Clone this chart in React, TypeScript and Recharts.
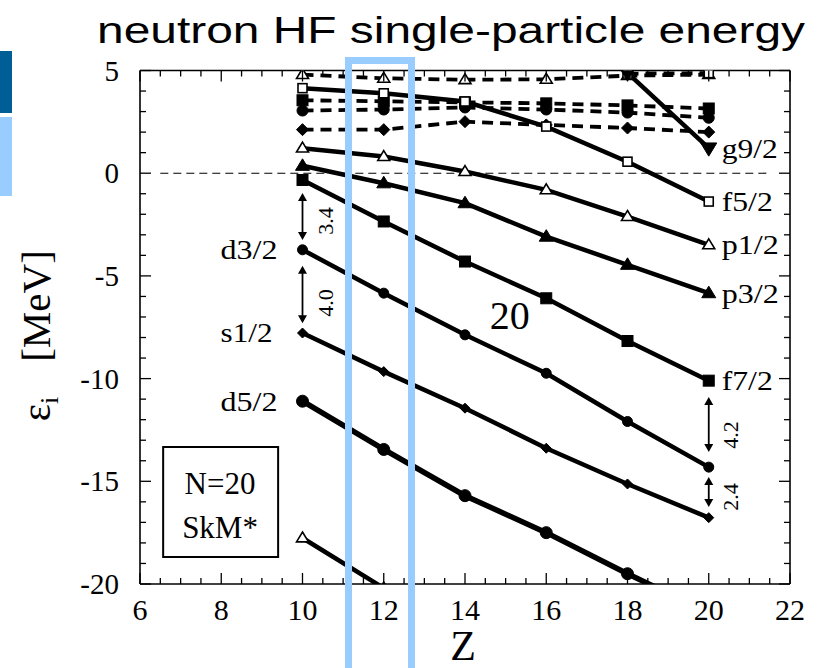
import React from 'react';
import { LineChart, Line, XAxis, YAxis, ReferenceLine, ReferenceDot, ReferenceArea } from 'recharts';

// ---------- data (Z = proton number, energies in MeV) ----------
const zValues = [10, 12, 14, 16, 18, 20];

// bound levels (solid lines)
const d52 = [-11.1, -13.45, -15.7, -17.5, -19.5, -21.4];
const s12 = [-7.78, -9.66, -11.44, -13.39, -15.13, -16.77];
const d32 = [-3.73, -5.84, -7.87, -9.74, -12.09, -14.31];
const f72 = [-0.33, -2.35, -4.3, -6.09, -8.17, -10.1];
const p32 = [0.36, -0.49, -1.46, -3.09, -4.46, -5.84];
const p12 = [1.22, 0.81, 0.08, -0.81, -2.11, -3.49];
const f52 = [4.14, 3.89, 3.49, 2.27, 0.56, -1.38];
const g92 = [null, null, null, null, 4.88, 1.22];
const p32deep = [-17.76, -20.2, null, null, null, null];

// continuum levels (dashed lines)
const contTri = [4.8, 4.62, 4.55, 4.57, 4.75, 4.8];
const contOpenSq = [null, null, null, null, 4.85, 4.87];
const contSq = [3.55, 3.5, 3.45, 3.4, 3.3, 3.15];
const contCirc = [3.05, 3.1, 3.2, 3.1, 2.95, 2.7];
const contDia = [2.12, 2.12, 2.51, 2.35, 2.2, 2.0];

// ticks
const xTicks = [6, 6.5, 7, 7.5, 8, 8.5, 9, 9.5, 10, 10.5, 11, 11.5, 12, 12.5, 13, 13.5, 14, 14.5, 15, 15.5, 16, 16.5, 17, 17.5, 18, 18.5, 19, 19.5, 20, 20.5, 21, 21.5, 22];
const xLabeledTicks = [6, 8, 10, 12, 14, 16, 18, 20, 22];
const yTicks = [-20, -19, -18, -17, -16, -15, -14, -13, -12, -11, -10, -9, -8, -7, -6, -5, -4, -3, -2, -1, 0, 1, 2, 3, 4, 5];
const yLabeledTicks = [-20, -15, -10, -5, 0, 5];

const data = zValues.map((z, i) => ({
  z,
  d52: d52[i], s12: s12[i], d32: d32[i], f72: f72[i], p32: p32[i], p12: p12[i],
  f52: f52[i], g92: g92[i], p32deep: p32deep[i],
  contTri: contTri[i], contOpenSq: contOpenSq[i], contSq: contSq[i], contCirc: contCirc[i], contDia: contDia[i],
}));

const SERIF = "'Liberation Serif', 'Times New Roman', serif";
const SANS = "'Liberation Sans', Arial, sans-serif";
const serifStyle = { fontFamily: SERIF };

// ---------- markers ----------
type Shape = 'circle' | 'square' | 'diamond' | 'tri' | 'triDown';
const marker = (shape: Shape, s: number, open = false) => (p: any) => {
  const { cx, cy, index, value } = p;
  const key = `m-${index}`;
  if (cx == null || cy == null || value == null || Number.isNaN(cy)) return <g key={key} />;
  const fill = open ? '#fff' : '#000';
  const common = { fill, stroke: '#000', strokeWidth: open ? 1.6 : 1 };
  switch (shape) {
    case 'circle':
      return <circle key={key} cx={cx} cy={cy} r={s} {...common} />;
    case 'square':
      return <rect key={key} x={cx - s} y={cy - s} width={2 * s} height={2 * s} {...common} />;
    case 'diamond':
      return <polygon key={key} points={`${cx},${cy - s} ${cx + s},${cy} ${cx},${cy + s} ${cx - s},${cy}`} {...common} />;
    case 'tri':
      return <polygon key={key} points={`${cx},${cy - s} ${cx + s},${cy + s * 0.65} ${cx - s},${cy + s * 0.65}`} {...common} />;
    case 'triDown':
      return <polygon key={key} points={`${cx},${cy + s} ${cx + s},${cy - s * 0.65} ${cx - s},${cy - s * 0.65}`} {...common} />;
  }
  return <g key={key} />;
};

// ---------- tick marks (lines only; labels drawn as reference text) ----------
const BottomTick = (p: any) => {
  const { x, y, payload } = p;
  const major = xLabeledTicks.includes(payload.value);
  return <line x1={x} y1={y} x2={x} y2={y - (major ? 11 : 6)} stroke="#000" strokeWidth={1.3} />;
};
const TopTick = (p: any) => {
  const { x, y, payload } = p;
  const major = xLabeledTicks.includes(payload.value);
  return <line x1={x} y1={y} x2={x} y2={y + (major ? 11 : 6)} stroke="#000" strokeWidth={1.3} />;
};
const LeftTick = (p: any) => {
  const { x, y, payload } = p;
  const major = yLabeledTicks.includes(payload.value);
  return <line x1={x} y1={y} x2={x + (major ? 11 : 6)} y2={y} stroke="#000" strokeWidth={1.3} />;
};
const RightTick = (p: any) => {
  const { x, y, payload } = p;
  const major = yLabeledTicks.includes(payload.value);
  return <line x1={x} y1={y} x2={x - (major ? 11 : 6)} y2={y} stroke="#000" strokeWidth={1.3} />;
};

// ---------- annotation shapes ----------
const textAt = (txt: string, dx: number, anchor: string, size: number, len?: number, dyPx = 0) => (p: any) => (
  <text
    x={p.cx + dx}
    y={p.cy + dyPx}
    dy="0.35em"
    textAnchor={anchor}
    style={serifStyle}
    fontFamily={SERIF}
    fontSize={size}
    fill="#000"
    textLength={len}
    lengthAdjust={len ? 'spacingAndGlyphs' : undefined}
  >
    {txt}
  </text>
);
const vText = (txt: string, size: number) => (p: any) => (
  <text
    x={p.cx}
    y={p.cy}
    dy="0.35em"
    textAnchor="middle"
    style={serifStyle}
    fontSize={size}
    fill="#000"
    transform={`rotate(-90, ${p.cx}, ${p.cy})`}
  >
    {txt}
  </text>
);
const ArrowShape = (p: any) => {
  const { x1, y1, x2, y2 } = p;
  const top = Math.min(y1, y2);
  const bot = Math.max(y1, y2);
  const h = 8;
  const w = 4.5;
  return (
    <g>
      <line x1={x1} y1={top + 3} x2={x2} y2={bot - 3} stroke="#000" strokeWidth={1.8} />
      <polygon points={`${x1},${top} ${x1 - w},${top + h} ${x1 + w},${top + h}`} fill="#000" />
      <polygon points={`${x1},${bot} ${x1 - w},${bot - h} ${x1 + w},${bot - h}`} fill="#000" />
    </g>
  );
};

const solid = { stroke: '#000', strokeWidth: 4.5, type: 'linear' as const, isAnimationActive: false, connectNulls: false };
const dashed = { ...solid, strokeWidth: 3.8, strokeDasharray: '11 7' };

export default function App() {
  return (
    <div style={{ position: 'absolute', left: 0, top: 0, width: 817, height: 668, background: '#fff', overflow: 'hidden' }}>
      <LineChart width={817} height={668} data={data} margin={{ top: 69.5, right: 26, bottom: 83, left: 139 }}>
        <XAxis
          dataKey="z"
          type="number"
          domain={[6, 22]}
          ticks={xTicks}
          interval={0}
          height={1}
          tickSize={0}
          tickMargin={0}
          tick={<BottomTick />}
          tickLine={false}
          axisLine={{ stroke: '#000', strokeWidth: 1.6 }}
          allowDataOverflow
        />
        <XAxis
          xAxisId="top"
          orientation="top"
          dataKey="z"
          type="number"
          domain={[6, 22]}
          ticks={xTicks}
          interval={0}
          height={1}
          tickSize={0}
          tickMargin={0}
          tick={<TopTick />}
          tickLine={false}
          axisLine={{ stroke: '#000', strokeWidth: 1.6 }}
          allowDataOverflow
        />
        <YAxis
          type="number"
          domain={[-20, 5]}
          ticks={yTicks}
          interval={0}
          width={1}
          tickSize={0}
          tickMargin={0}
          tick={<LeftTick />}
          tickLine={false}
          axisLine={{ stroke: '#000', strokeWidth: 1.6 }}
          allowDataOverflow
        />
        <YAxis
          yAxisId="right"
          orientation="right"
          type="number"
          domain={[-20, 5]}
          ticks={yTicks}
          interval={0}
          width={1}
          tickSize={0}
          tickMargin={0}
          tick={<RightTick />}
          tickLine={false}
          axisLine={{ stroke: '#000', strokeWidth: 1.6 }}
          allowDataOverflow
        />

        <ReferenceLine
          segment={[{ x: 6.5, y: 0 }, { x: 21.5, y: 0 }]}
          stroke="#000"
          strokeWidth={1.1}
          strokeDasharray="8 5"
        />

        {/* continuum (dashed) */}
        <Line dataKey="contTri" {...dashed} dot={marker('tri', 6, true)} />
        <Line dataKey="contOpenSq" {...dashed} dot={marker('square', 4.5, true)} />
        <Line dataKey="contSq" {...dashed} dot={marker('square', 5.5)} />
        <Line dataKey="contCirc" {...dashed} dot={marker('circle', 5.5)} />
        <Line dataKey="contDia" {...dashed} dot={marker('diamond', 6)} />

        {/* bound levels (solid) */}
        <Line dataKey="f52" {...solid} dot={marker('square', 4.5, true)} />
        <Line dataKey="g92" {...solid} dot={marker('triDown', 8)} />
        <Line dataKey="p12" {...solid} dot={marker('tri', 6, true)} />
        <Line dataKey="p32" {...solid} dot={marker('tri', 7)} />
        <Line dataKey="f72" {...solid} dot={marker('square', 5.5)} />
        <Line dataKey="d32" {...solid} dot={marker('circle', 5)} />
        <Line dataKey="s12" {...solid} dot={marker('diamond', 5)} />
        <Line dataKey="d52" {...solid} strokeWidth={5.5} dot={marker('circle', 6)} />
        <Line dataKey="p32deep" {...solid} dot={marker('tri', 6, true)} />

        {/* axis tick labels */}
        {xLabeledTicks.map((v) => (
          <ReferenceDot key={`xl-${v}`} x={v} y={-20} r={0} ifOverflow="visible" shape={textAt(String(v), 0, 'middle', 30, undefined, 25)} />
        ))}
        {yLabeledTicks.map((v) => (
          <ReferenceDot key={`yl-${v}`} x={6} y={v} r={0} ifOverflow="visible" shape={textAt(String(v), -21, 'end', 29)} />
        ))}

        {/* gap arrows */}
        <ReferenceLine segment={[{ x: 10, y: -0.97 }, { x: 10, y: -3.25 }]} shape={ArrowShape} />
        <ReferenceLine segment={[{ x: 10, y: -4.5 }, { x: 10, y: -7.3 }]} shape={ArrowShape} />
        <ReferenceLine segment={[{ x: 20, y: -10.9 }, { x: 20, y: -13.57 }]} shape={ArrowShape} />
        <ReferenceLine segment={[{ x: 20, y: -14.79 }, { x: 20, y: -16.25 }]} shape={ArrowShape} />
        <ReferenceDot x={10.55} y={-2.33} r={0} shape={vText('3.4', 22)} />
        <ReferenceDot x={10.55} y={-6.32} r={0} shape={vText('4.0', 22)} />
        <ReferenceDot x={20.52} y={-12.74} r={0} shape={vText('4.2', 22)} />
        <ReferenceDot x={20.52} y={-15.76} r={0} shape={vText('2.4', 22)} />

        {/* level labels */}
        <ReferenceDot x={zValues[0]} y={d32[0]} r={0} shape={textAt('d3/2', -25, 'end', 27, 57)} />
        <ReferenceDot x={zValues[0]} y={s12[0]} r={0} shape={textAt('s1/2', -30, 'end', 27, 52)} />
        <ReferenceDot x={zValues[0]} y={d52[0]} r={0} shape={textAt('d5/2', -25, 'end', 27, 57)} />
        <ReferenceDot x={zValues[5]} y={g92[5] as number} r={0} shape={textAt('g9/2', 13, 'start', 27, 56)} />
        <ReferenceDot x={zValues[5]} y={f52[5]} r={0} shape={textAt('f5/2', 13, 'start', 27, 51)} />
        <ReferenceDot x={zValues[5]} y={p12[5]} r={0} shape={textAt('p1/2', 13, 'start', 27, 57)} />
        <ReferenceDot x={zValues[5]} y={p32[5]} r={0} shape={textAt('p3/2', 13, 'start', 27, 57)} />
        <ReferenceDot x={zValues[5]} y={f72[5]} r={0} shape={textAt('f7/2', 13, 'start', 27, 51)} />
        <ReferenceDot x={15.1} y={-6.9} r={0} shape={textAt('20', 0, 'middle', 40)} />

        {/* info box */}
        <ReferenceArea x1={6.57} x2={9.4} y1={-18.68} y2={-13.33} fill="none" stroke="#000" strokeWidth={2} />
        <ReferenceDot x={7.97} y={-15.08} r={0} shape={textAt('N=20', 0, 'middle', 31)} />
        <ReferenceDot x={7.97} y={-17.22} r={0} shape={textAt('SkM*', 0, 'middle', 31)} />
      </LineChart>

      <svg width={817} height={668} style={{ position: 'absolute', left: 0, top: 0, pointerEvents: 'none' }}>
        <rect x={0} y={51} width={12} height={62} fill="#005e96" />
        <rect x={0} y={117} width={12} height={79} fill="#99ccff" />
        <rect x={348.5} y={60.5} width={63} height={640} fill="none" stroke="#99ccff" strokeWidth={7} />
        <text x={97} y={43} style={{ fontFamily: SANS }} fontSize={37} fill="#000" textLength={708} lengthAdjust="spacingAndGlyphs">
          neutron HF single-particle energy
        </text>
        <text x={463} y={660} textAnchor="middle" style={serifStyle} fontSize={42} fill="#000">Z</text>
        <g transform="translate(50,306) rotate(-90)">
          <text x={0} y={0} textAnchor="middle" style={serifStyle} fontSize={41} fill="#000">[MeV]</text>
        </g>
        <g transform="translate(50,409) rotate(-90)">
          <text x={0} y={0} textAnchor="middle" style={serifStyle} fontSize={41} fill="#000">
            ε<tspan fontSize={26} dy={8}>i</tspan>
          </text>
        </g>
      </svg>
    </div>
  );
}
